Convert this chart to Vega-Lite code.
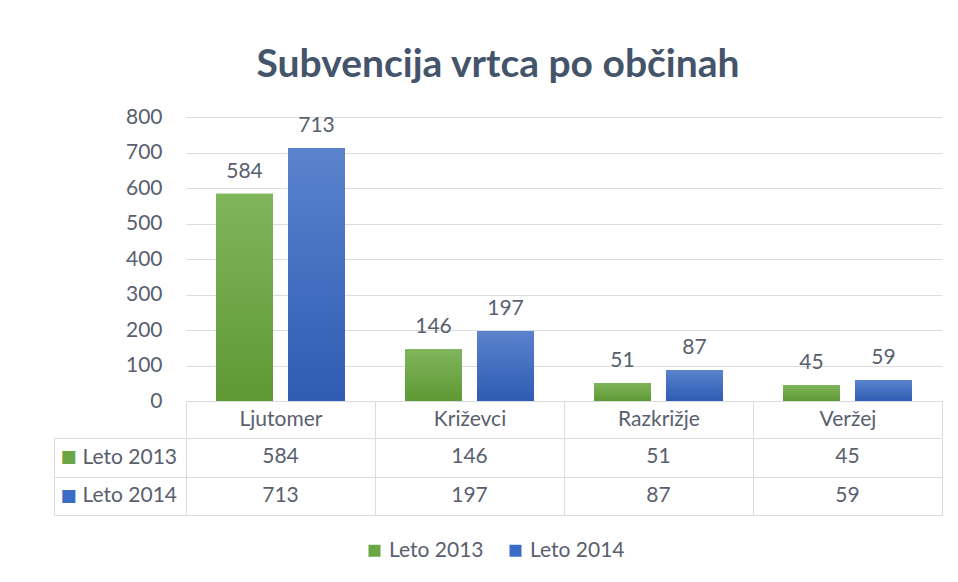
{
  "$schema": "https://vega.github.io/schema/vega-lite/v6.json",
  "background": "white",
  "padding": {"left": 53, "top": 46, "right": 17, "bottom": 12},
  "datasets": {
    "main": [
      {"municipality": "Ljutomer", "series": "Leto 2013", "value": 584},
      {"municipality": "Ljutomer", "series": "Leto 2014", "value": 713},
      {"municipality": "Križevci", "series": "Leto 2013", "value": 146},
      {"municipality": "Križevci", "series": "Leto 2014", "value": 197},
      {"municipality": "Razkrižje", "series": "Leto 2013", "value": 51},
      {"municipality": "Razkrižje", "series": "Leto 2014", "value": 87},
      {"municipality": "Veržej", "series": "Leto 2013", "value": 45},
      {"municipality": "Veržej", "series": "Leto 2014", "value": 59}
    ]
  },
  "data": {"name": "main"},
  "title": {
    "text": "Subvencija vrtca po občinah",
    "font": "Lato",
    "fontSize": 39,
    "fontWeight": "bold",
    "color": "#44546a",
    "anchor": "middle",
    "offset": 21
  },
  "spacing": -11,
  "vconcat": [
    {
      "width": 756,
      "height": 284,
      "encoding": {
        "x": {
          "field": "municipality",
          "type": "nominal",
          "sort": ["Ljutomer", "Križevci", "Razkrižje", "Veržej"],
          "scale": {"type": "band", "paddingInner": 0, "paddingOuter": 0},
          "axis": {
            "title": null,
            "domain": true,
            "domainColor": "#d9dde3",
            "ticks": true,
            "tickBand": "extent",
            "tickSize": 36,
            "tickColor": "#d9dde3",
            "grid": false,
            "labelAngle": 0,
            "labelBaseline": "middle",
            "labelPadding": -18,
            "labelFontSize": 21,
            "labelColor": "#58606e"
          }
        },
        "xOffset": {
          "field": "series",
          "type": "nominal",
          "scale": {"type": "band", "paddingInner": 0.2083, "paddingOuter": 0.4167}
        },
        "y": {
          "field": "value",
          "type": "quantitative",
          "scale": {"domain": [0, 800]},
          "axis": {
            "title": null,
            "values": [0, 100, 200, 300, 400, 500, 600, 700, 800],
            "domain": false,
            "ticks": false,
            "labelPadding": 24,
            "labelFontSize": 21,
            "labelColor": "#58606e",
            "gridColor": "#d9dde3"
          }
        }
      },
      "layer": [
        {
          "mark": {"type": "bar"},
          "encoding": {
            "color": {
              "field": "series",
              "type": "nominal",
              "scale": {"range": ["#6aa744", "#3b6cc6"]},
              "legend": {
                "title": null,
                "orient": "none",
                "legendX": 178,
                "legendY": 423,
                "direction": "horizontal",
                "symbolType": "square",
                "symbolSize": 144,
                "symbolStrokeWidth": 0,
                "labelFontSize": 21,
                "labelColor": "#58606e",
                "labelOffset": 4,
                "columnPadding": 21
              }
            }
          }
        },
        {
          "transform": [{"filter": "datum.series === 'Leto 2013'"}],
          "mark": {
            "type": "bar",
            "color": {
              "gradient": "linear", "x1": 0, "y1": 0, "x2": 0, "y2": 1,
              "stops": [{"offset": 0, "color": "#80b55c"}, {"offset": 1, "color": "#5e9934"}]
            }
          }
        },
        {
          "transform": [{"filter": "datum.series === 'Leto 2014'"}],
          "mark": {
            "type": "bar",
            "color": {
              "gradient": "linear", "x1": 0, "y1": 0, "x2": 0, "y2": 1,
              "stops": [{"offset": 0, "color": "#5b83cd"}, {"offset": 1, "color": "#2e5cb3"}]
            }
          }
        },
        {
          "mark": {"type": "text", "baseline": "alphabetic", "dy": -16, "fontSize": 21, "color": "#58606e"},
          "encoding": {"text": {"field": "value", "type": "quantitative"}}
        }
      ]
    },
    {
      "width": 756,
      "height": 77,
      "layer": [
        {
          "mark": {"type": "text", "fontSize": 21, "color": "#58606e", "baseline": "middle"},
          "encoding": {
            "x": {
              "field": "municipality",
              "type": "nominal",
              "sort": ["Ljutomer", "Križevci", "Razkrižje", "Veržej"],
              "scale": {"type": "band", "paddingInner": 0, "paddingOuter": 0},
              "axis": {
                "title": null,
                "labels": false,
                "ticks": false,
                "domain": false,
                "grid": true,
                "tickBand": "extent",
                "gridColor": "#d9dde3"
              }
            },
            "y": {
              "field": "series",
              "type": "nominal",
              "scale": {"type": "band", "paddingInner": 0, "paddingOuter": 0},
              "axis": {
                "title": null,
                "orient": "left",
                "domain": true,
                "domainColor": "#d9dde3",
                "ticks": true,
                "tickBand": "extent",
                "tickSize": 132,
                "tickColor": "#d9dde3",
                "grid": true,
                "gridColor": "#d9dde3",
                "labelAlign": "left",
                "labelBaseline": "middle",
                "labelPadding": -28,
                "labelFontSize": 21,
                "labelColor": "#58606e"
              }
            },
            "text": {"field": "value", "type": "quantitative"}
          }
        },
        {
          "mark": {"type": "text", "fontSize": 1},
          "encoding": {
            "y": {
              "field": "series",
              "type": "nominal",
              "scale": {"type": "band", "paddingInner": 0, "paddingOuter": 0},
              "axis": {
                "title": null,
                "orient": "left",
                "offset": 132,
                "domain": true,
                "domainColor": "#d9dde3",
                "ticks": false,
                "grid": false,
                "labelExpr": "'■'",
                "labelFont": "DejaVu Sans",
                "labelFontSize": 17,
                "labelAlign": "left",
                "labelBaseline": "middle",
                "labelPadding": -6,
                "labelColor": {"condition": {"test": "datum.value === 'Leto 2013'", "value": "#6aa744"}, "value": "#3b6cc6"}
              }
            },
            "text": {"value": ""}
          }
        }
      ],
      "resolve": {"scale": {"y": "independent"}}
    }
  ],
  "config": {
    "view": {"stroke": null},
    "font": "Lato",
    "axis": {"labelFont": "Lato"},
    "legend": {"labelFont": "Lato"}
  }
}
